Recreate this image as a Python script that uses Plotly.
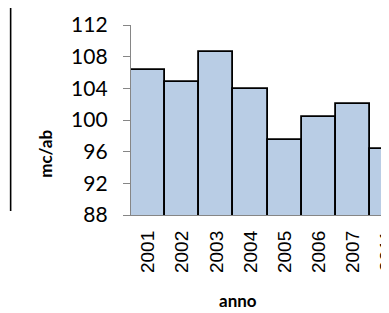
import plotly.graph_objects as go

years = ["2001", "2002", "2003", "2004", "2005", "2006", "2007", "2011"]
values = [106.3, 104.75, 108.65, 103.9, 97.5, 100.4, 102.0, 96.4]
y_ticks = [88, 92, 96, 100, 104, 108, 112]

W, H = 389, 313
L, R, T, B = 123, 0, 17, 106
pw, ph = W - L - R, H - T - B

def px_x(x):
    return (x - L) / pw

def px_y(y):
    return (H - B - y) / ph

fig = go.Figure()
fig.add_trace(go.Bar(
    x=years, y=values,
    marker=dict(color="#B9CDE5", line=dict(color="#000000", width=1.8)),
    width=1.0,
))

fig.update_layout(
    width=W, height=H,
    margin=dict(l=L, r=R, t=T, b=B, pad=0),
    paper_bgcolor="white", plot_bgcolor="white",
    showlegend=False,
    bargap=0,
    xaxis=dict(
        type="category",
        range=[-0.5, 7.17],
        showline=True, linecolor="#868686", linewidth=1.3,
        ticks="", showgrid=False,
        tickangle=-90,
        tickfont=dict(family="Liberation Sans", size=19, color="#000"),
        ticklabelstandoff=7,
    ),
    yaxis=dict(
        range=[88, 112],
        tickvals=y_ticks,
        showline=True, linecolor="#868686", linewidth=1.3,
        ticks="outside", ticklen=7, tickcolor="#868686", tickwidth=1.3,
        showgrid=False, zeroline=False,
        tickfont=dict(family="Lato", size=21, color="#000"),
        ticklabelstandoff=11,
    ),
    annotations=[
        dict(text="<b>mc/ab</b>", xref="paper", yref="paper",
             x=px_x(35.5), y=px_y(146), textangle=-90, showarrow=False,
             font=dict(family="Lato", size=17, color="#000"),
             xanchor="center", yanchor="middle"),
        dict(text="<b>anno</b>", xref="paper", yref="paper",
             x=px_x(231.7), y=px_y(292), showarrow=False,
             font=dict(family="Lato", size=17, color="#000"),
             xanchor="center", yanchor="middle"),
    ],
    shapes=[
        dict(type="line", xref="paper", yref="paper",
             x0=px_x(0.8), x1=px_x(0.8), y0=px_y(0), y1=px_y(203),
             line=dict(color="#000", width=1.6)),
    ],
)

fig.write_html("out.html")
